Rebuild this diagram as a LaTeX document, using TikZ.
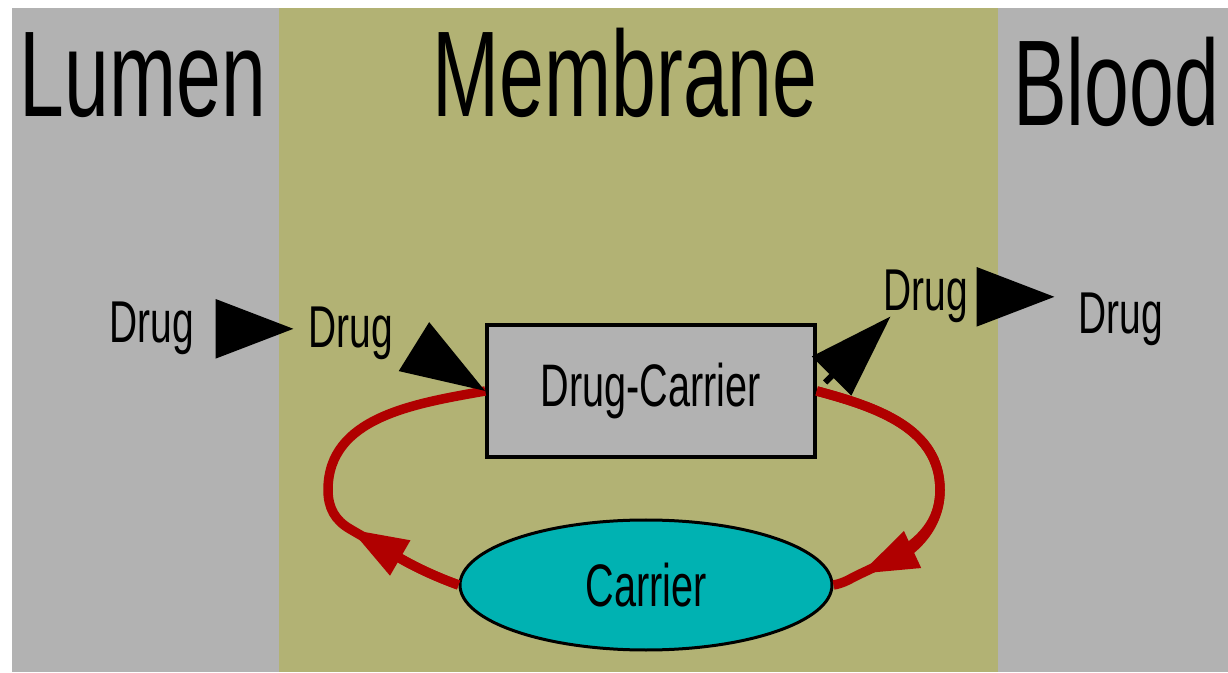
\documentclass[tikz,border=0pt]{standalone}
\usepackage{fontspec}
\setmainfont{Liberation Sans}[FakeStretch=0.66]
\usetikzlibrary{arrows.meta,positioning,shapes.geometric}

\definecolor{lumengrey}{RGB}{178,178,178}
\definecolor{membraneolive}{RGB}{178,178,116}
\definecolor{carriercyan}{RGB}{0,178,178}
\definecolor{cyclered}{RGB}{176,0,0}

\begin{document}
\begin{tikzpicture}[%
  x=1pt, y=1pt,
  region/.style={font=\fontsize{122}{124}\selectfont, inner sep=0pt, anchor=base},
  drug/.style={font=\fontsize{59}{62}\selectfont, inner sep=0pt, anchor=base},
  complex/.style={draw, line width=3.5pt, fill=lumengrey, minimum width=328pt,
    minimum height=132pt, font=\fontsize{60}{62}\selectfont},
  carrier/.style={ellipse, draw, line width=3pt, fill=carriercyan, minimum width=372pt,
    minimum height=130pt, inner sep=0pt, font=\fontsize{60}{62}\selectfont},
  blkarrow/.style={line width=6pt, -{Triangle[length=78pt,width=58pt]}},
  redloop/.style={draw=cyclered, line width=9.5pt},
  redtip/.style={-{Triangle[length=58pt,width=38pt]}}]
\useasboundingbox (0,0) rectangle (1228,672);
\fill[white] (0,0) rectangle (1228,672);
\fill[lumengrey] (12,0) rectangle (279,664);
\fill[membraneolive] (279,0) rectangle (998,664);
\fill[lumengrey] (998,0) rectangle (1228,664);
% compartments
\node[region] (lumen) at (143,555) {Lumen};
\node[region] (membrane) at (625,555) {Membrane};
\node[region] (blood) at (1116,546) {Blood};
% drug on each side
\node[drug] (drugA) at (152,329) {Drug};
\node[drug] (drugB) at (351,324) {Drug};
\node[drug] (drugC) at (926,361) {Drug};
\node[drug] (drugD) at (1121,338) {Drug};
\node[complex] (box) at (651,281) {Drug-Carrier};
\node[carrier] (carrier) at (646,87) {Carrier};
\coordinate (leftbend) at (328,182);
\coordinate (rightbend) at (940,182);
\coordinate (redL) at (350,143);
\coordinate (redR) at (860,98);
% carrier cycle
\draw[redloop] (carrier.west) to[out=160,in=-30] (redL)
  to[out=150,in=-90] (leftbend) to[out=90,in=190] (box.west);
\draw[redloop, redtip] (carrier.west) to[out=160,in=-30] (redL);
\draw[redloop] (box.east) to[out=-15,in=90] (rightbend)
  to[out=-90,in=25] (redR) to[out=205,in=10] (carrier.east);
\draw[redloop, redtip] (box.east) to[out=-15,in=90] (rightbend) to[out=-90,in=25] (redR);
% drug flow
\draw[blkarrow, shorten <=25pt, shorten >=15pt] (drugA.east) -- (drugA.east -| drugB.west);
\draw[blkarrow, -{Triangle[length=84pt,width=56pt]}, shorten <=27pt] (drugB.east) -- (box.west);
\draw[blkarrow, -{Triangle[length=84pt,width=54pt]}, shorten <=12pt, shorten >=-10pt] (box.east) -- (drugC.south west);
\draw[blkarrow, shorten <=13pt, shorten >=24pt] (drugC.east) -- (drugC.east -| drugD.west);
\end{tikzpicture}
\end{document}
